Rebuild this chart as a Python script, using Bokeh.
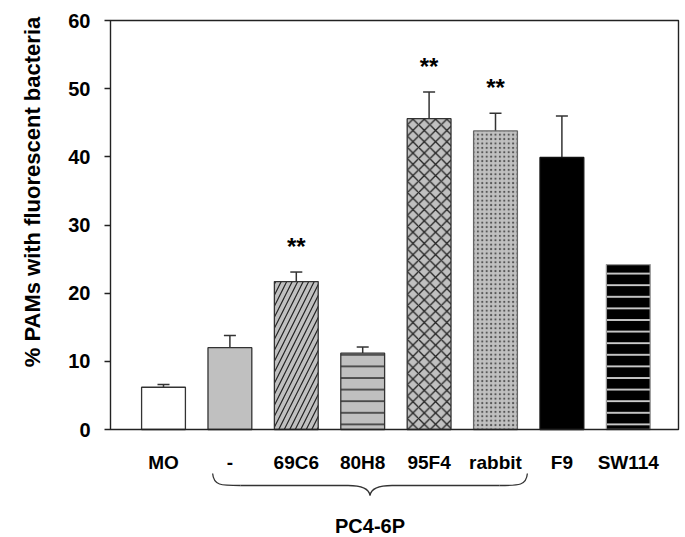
from bokeh.plotting import figure
from bokeh.models import Range1d, FixedTicker, ColumnDataSource, Whisker, TeeHead
from bokeh.core.properties import value
from bokeh.embed import file_html
from bokeh.resources import INLINE

# ---------------- data ----------------
categories = ["MO", "-", "69C6", "80H8", "95F4", "rabbit", "F9", "SW114"]
means = [6.2, 12.0, 21.7, 11.2, 45.6, 43.8, 39.9, 24.2]
sem = [0.4, 1.8, 1.4, 0.9, 3.9, 2.6, 6.1, 0.0]
significance = ["", "", "**", "", "**", "**", "", ""]
group_label = "PC4-6P"
group_members = ["-", "69C6", "80H8", "95F4", "rabbit"]
y_ticks = [0, 10, 20, 30, 40, 50, 60]
y_title = "% PAMs with fluorescent bacteria"

# ---------------- styles ----------------
GRAY = "#c0c0c0"
fills = ["white", GRAY, GRAY, GRAY, GRAY, GRAY, "black", "black"]
lines = ["#333333", "#333333", "#333333", "#333333", "#333333", "#666666", "#111111", "#999999"]
hatches = [" ", " ", "/", "-", "x", ".", " ", "-"]
hatch_colors = ["#222222", "#222222", "#222222", "#222222", "#222222", "#555555", "#222222", "#f0f0f0"]
hatch_scales = [11, 11, 11, 11.6, 11.3, 4.4, 11, 11.6]
hatch_weights = [1.2, 1.2, 1.2, 1.4, 1.3, 1.0, 1.2, 1.6]
FONT = "Liberation Sans"

# layout (pixels; the frame covers the whole canvas)
W, H = 684, 536
XPX = 66.4            # px per category
YPX = 409.0 / 60.0    # px per y unit
X0_PX = 163.0         # canvas x of first category
Y0_PX = 429.0         # canvas y of value 0


def dx(px):
    return px / XPX


def dy(px):
    return px / YPX


def cx(px):   # canvas x -> data x
    return (px - X0_PX) / XPX


def cy(px):   # canvas y -> data y
    return (Y0_PX - px) / YPX


p = figure(width=W, height=H, output_backend="svg", toolbar_location=None,
           x_range=Range1d(cx(0), cx(W)), y_range=Range1d(cy(H), cy(0)),
           x_axis_location=None,
           min_border_left=0, min_border_right=0, min_border_top=0, min_border_bottom=0)
p.outline_line_color = None
p.xgrid.visible = False
p.ygrid.visible = False
p.background_fill_color = "white"
p.border_fill_color = "white"

xs = list(range(len(categories)))
src = ColumnDataSource(dict(x=xs, top=means, fill=fills, line=lines, hatch=hatches,
                            hcolor=hatch_colors, hscale=hatch_scales, hweight=hatch_weights))
p.vbar(x="x", top="top", bottom=0, width=0.66, source=src,
       fill_color="fill", line_color="line", line_width=1.3,
       hatch_pattern="hatch", hatch_color="hcolor", hatch_scale="hscale",
       hatch_weight="hweight")

# error bars (upper only)
ex = [x for x, s in zip(xs, sem) if s > 0]
elo = [m for m, s in zip(means, sem) if s > 0]
ehi = [m + s for m, s in zip(means, sem) if s > 0]
esrc = ColumnDataSource(dict(x=ex, lower=elo, upper=ehi))
p.add_layout(Whisker(source=esrc, base="x", lower="lower", upper="upper",
                     line_color="#333333", line_width=1.5, lower_head=None,
                     upper_head=TeeHead(size=12, line_color="#333333", line_width=1.5)))

# plot box around 0..60
bx0 = cx(110)
bx1 = cx(678)
p.quad(left=[bx0], right=[bx1], bottom=[y_ticks[0]], top=[y_ticks[-1]],
       fill_color=None, line_color="#222222", line_width=1.4)

# significance stars
sx = [x for x, s in zip(xs, significance) if s]
sy = [m + e + dy(26) for m, e, s in zip(means, sem, significance) if s]
st = [s for s in significance if s]
p.text(x=sx, y=sy, text=st, text_align="center", text_baseline="middle",
       text_font=value(FONT), text_font_style="bold", text_font_size="24px",
       text_color="black")

# category labels
p.text(x=xs, y=[-dy(33)] * len(xs), text=categories, text_align="center",
       text_baseline="middle", text_font=value(FONT), text_font_style="bold",
       text_font_size="19px", text_color="black")

# brace under group
gi = [categories.index(c) for c in group_members]
L = gi[0] - 0.26
R = gi[-1] + 0.48
T = (L + R) / 2
yE, yHh, yT = -dy(44), -dy(56), -dy(66)
bx0s = [L, L + dx(28), T - dx(22), R, R - dx(28), T + dx(22)]
by0s = [yE, yHh, yHh, yE, yHh, yHh]
bx1s = [L + dx(28), T - dx(22), T, R - dx(28), T + dx(22), T]
by1s = [yHh, yHh, yT, yHh, yHh, yT]
cx0s = [L + dx(1), L + dx(28), T - dx(10), R - dx(1), R - dx(28), T + dx(10)]
cy0s = [yHh, yHh, yHh, yHh, yHh, yHh]
cx1s = [L + dx(8), T - dx(22), T - dx(1), R - dx(8), T + dx(22), T + dx(1)]
cy1s = [yHh, yHh, yHh - dy(3), yHh, yHh, yHh - dy(3)]
p.bezier(x0=bx0s, y0=by0s, x1=bx1s, y1=by1s, cx0=cx0s, cy0=cy0s, cx1=cx1s, cy1=cy1s,
         line_color="#333333", line_width=1.3)

p.text(x=[T], y=[-dy(96)], text=[group_label], text_align="center",
       text_baseline="middle", text_font=value(FONT), text_font_style="bold",
       text_font_size="20px", text_color="black")

# y axis, pinned to the left edge of the plot box
ax = p.yaxis[0]
ax.fixed_location = bx0
ax.ticker = FixedTicker(ticks=y_ticks)
ax.axis_line_color = None
ax.major_tick_out = 6
ax.major_tick_in = 0
ax.minor_tick_out = 0
ax.minor_tick_in = 0
ax.major_tick_line_color = "#222222"
ax.major_tick_line_width = 1.3
ax.major_label_text_font = FONT
ax.major_label_text_font_style = "bold"
ax.major_label_text_font_size = "20px"
ax.major_label_text_color = "black"
ax.major_label_standoff = 14

# y title
p.text(x=[cx(32)], y=[cy(191.5)], text=[y_title], angle=1.5707963,
       text_align="center", text_baseline="middle", text_font=value(FONT),
       text_font_style="bold", text_font_size="22px", text_color="black")

open("out.html", "w").write(file_html(p, INLINE))
